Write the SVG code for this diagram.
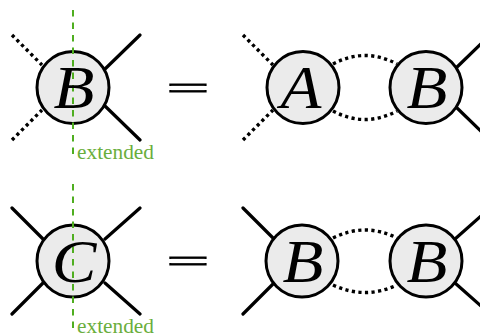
<svg xmlns="http://www.w3.org/2000/svg" width="480" height="334" viewBox="0 0 480 334">
<style>
.n{fill:#ebebeb;stroke:#000;stroke-width:3}
.l{font-family:"Liberation Serif",serif;font-style:italic;font-size:67px;fill:#000;text-anchor:middle}
.e{font-family:"Liberation Serif",serif;font-size:76px;fill:#000;stroke:#000;stroke-width:2;text-anchor:middle}
.x{font-family:"Liberation Serif",serif;font-size:20px;fill:#6aae3c}
.s{fill:none;stroke:#000;stroke-width:3.2;stroke-linecap:round}
.d{fill:none;stroke:#000;stroke-width:3.4;stroke-dasharray:3.2 3.4}
.g{fill:none;stroke:#4fae20;stroke-width:2;stroke-dasharray:6.5 6}
</style>
<rect width="480" height="334" fill="#fff"/>
<g id="connectors">
<path class="d" d="M12 35L42 65M12 140L42 110M243 35L273 65M243 140L273 110"/>
<path class="s" d="M105 69L140 35M105 106L140 140M455 69L490 35M455 106L490 140"/>
<path class="d" d="M333 64Q365 47 397 64M333 111Q365 128 397 111M333 238Q365 222 397 238M333 285Q365 300 397 285"/>
<path class="s" d="M12 208L43 239M140 208L105 239M12 314L43 283M140 314L105 283M243 208L273 238M243 314L273 284M455 239L490 208M455 283L490 314"/>
</g>
<g id="n1"><circle class="n" cx="73" cy="87.5" r="36"/></g>
<g id="n2"><circle class="n" cx="303" cy="87.5" r="36"/></g>
<g id="n3"><circle class="n" cx="426" cy="87.5" r="36"/></g>
<g id="n4"><circle class="n" cx="73" cy="261" r="36"/></g>
<g id="n5"><circle class="n" cx="302" cy="261" r="36"/></g>
<g id="n6"><circle class="n" cx="426" cy="261" r="36"/></g>
<g id="cuts">
<path class="g" d="M73 10V160M73 184V334"/>
<text class="x" x="77" y="159" textLength="77" lengthAdjust="spacingAndGlyphs">extended</text>
<text class="x" x="77" y="332.5" textLength="77" lengthAdjust="spacingAndGlyphs">extended</text>
</g>
<text class="l" transform="translate(74 107.5) scale(1 .9)">B</text>
<text class="l" transform="translate(301 107.5) scale(1 .9)">A</text>
<text class="l" transform="translate(427 107.5) scale(1 .9)">B</text>
<text class="l" transform="translate(74 281.5) scale(1 .9)">C</text>
<text class="l" transform="translate(303 281.5) scale(1 .9)">B</text>
<text class="l" transform="translate(427 281.5) scale(1 .9)">B</text>
<text class="e" transform="translate(188 98.5) scale(1 .42)">=</text>
<text class="e" transform="translate(188 272) scale(1 .42)">=</text>
</svg>
